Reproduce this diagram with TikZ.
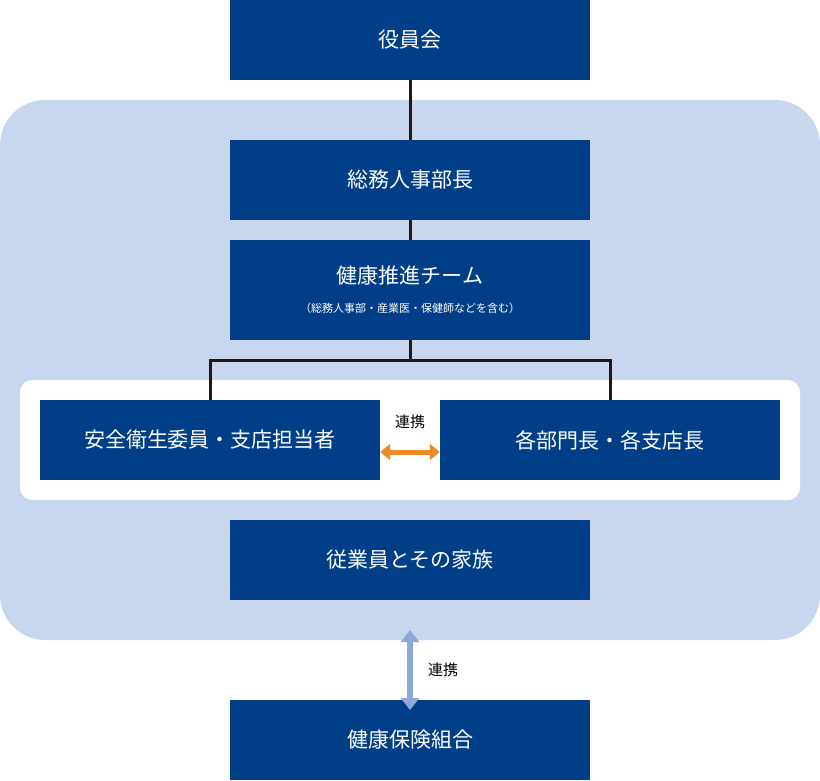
\documentclass[tikz,border=0pt]{standalone}
\usepackage{fontspec}
\setmainfont{Noto Sans CJK JP}
\usetikzlibrary{arrows.meta,calc}
\definecolor{navy}{HTML}{003F87}
\definecolor{paleblue}{HTML}{C9D7EE}
\definecolor{linkblue}{HTML}{8FA8D8}
\definecolor{linkorange}{HTML}{EE8A2A}
\definecolor{wire}{HTML}{231815}
\tikzset{
  unit/.style={fill=navy,text=white,minimum width=360pt,minimum height=80pt,inner sep=0pt,font=\fontsize{21}{24}\selectfont,align=center},
  wide/.style={unit,minimum width=340pt},
  tie/.style={draw=wire,line width=3pt},
}
\begin{document}
\begin{tikzpicture}[x=1pt,y=-1pt]
\useasboundingbox (0,0) rectangle (820,780);
\fill[paleblue,rounded corners=45pt] (0,100) rectangle (820,640);
\fill[white,rounded corners=12pt] (20,380) rectangle (800,500);

\node[unit] (board) at (410,40) {役員会};
\node[unit] (gm) at (410,180) {総務人事部長};
\node[unit,minimum height=100pt] (team) at (410,290) {};
\node[text=white,font=\fontsize{21}{24}\selectfont] (teamname) at (410,276) {健康推進チーム};
\node[text=white,font=\fontsize{11}{13}\selectfont] (teamnote) at (410,308) {（総務人事部・産業医・保健師などを含む）};
\node[wide] (safety) at (210,440) {安全衛生委員・支店担当者};
\node[wide] (heads) at (610,440) {各部門長・各支店長};
\node[unit] (staff) at (410,560) {従業員とその家族};
\node[unit] (union) at (410,740) {健康保険組合};

\coordinate (fork) at (410,360);
\draw[tie] (board) -- (gm);
\draw[tie] (gm) -- (team);
\draw[tie] (team) -- (fork);
\draw[tie] (safety.north) -- (safety.north |- fork) -- (heads.north |- fork) -- (heads.north);

\draw[linkorange,line width=5pt,{Triangle[length=10pt,width=16pt]}-{Triangle[length=10pt,width=16pt]}] (safety.east |- 0,452) -- (heads.west |- 0,452);
\node[font=\fontsize{15}{17}\selectfont] (linkA) at (410,422) {連携};

\draw[linkblue,line width=6pt,{Triangle[length=12pt,width=18pt]}-{Triangle[length=12pt,width=18pt]}] (410,630) -- (410,710);
\node[font=\fontsize{15}{17}\selectfont] (linkB) at (443,670) {連携};
\end{tikzpicture}
\end{document}
